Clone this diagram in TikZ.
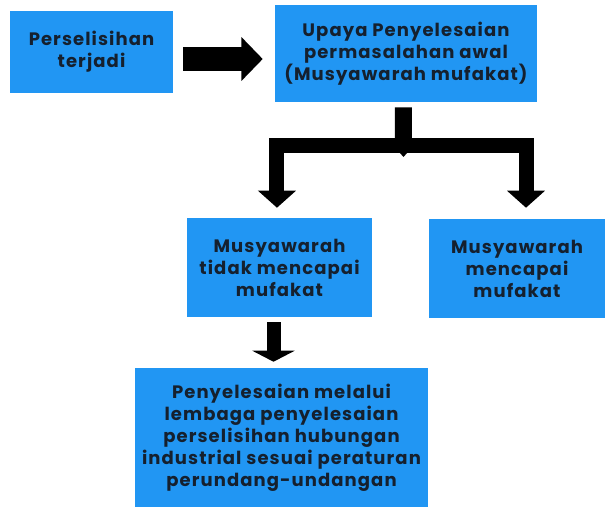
\documentclass[tikz,border=0pt]{standalone}
\usepackage{fontspec}
\setmainfont{Poppins}
\usetikzlibrary{arrows.meta}
\definecolor{boxblue}{HTML}{2196F3}
\definecolor{boxtext}{HTML}{15202E}

\begin{document}
\begin{tikzpicture}[x=0.75pt,y=-0.75pt,line join=miter,
  box/.style={fill=boxblue,draw=none,text=boxtext,align=center,inner sep=0pt,
    font=\fontsize{13.5pt}{16.5pt}\selectfont\bfseries\addfontfeatures{LetterSpace=6}},
  fatarrow/.style={draw=black,line width=#1},
  fatarrow/.default=11.25pt]
  \useasboundingbox (0,0) rectangle (605,507);
  \node[box,minimum width=122.25pt,minimum height=61.5pt] (terjadi) at (91.5,52)
       {Perselisihan\\terjadi};
  \node[box,minimum width=196.5pt,minimum height=72.75pt] (awal) at (406,53.5)
       {Upaya Penyelesaian\\permasalahan awal\\(Musyawarah mufakat)};
  \node[box,minimum width=138.75pt,minimum height=74.25pt] (gagal) at (279.5,267.5)
       {Musyawarah\\tidak mencapai\\mufakat};
  \node[box,minimum width=132pt,minimum height=74.25pt] (capai) at (517,268.5)
       {Musyawarah\\mencapai\\mufakat};
  \node[box,minimum width=219.75pt,minimum height=104.25pt] (lembaga) at (281.5,437.5)
       {Penyelesaian melalui\\lembaga penyelesaian\\perselisihan hubungan\\industrial sesuai peraturan\\perundang-undangan};
  \coordinate (split) at (403.5,145);
  \coordinate (fork) at (403.5,157);
  % arrows between the boxes
  \draw[fatarrow=18pt,-{Triangle[length=16pt,width=32pt]},shorten <=7.5pt,shorten >=9pt]
       ([yshift=-5.25pt]terjadi.east) -- ([yshift=-5.25pt]terjadi.east -| awal.west);
  \draw[fatarrow,-{Triangle[length=12.75pt,width=27.75pt]},shorten >=7.5pt]
       (split) -| ([xshift=-1.9pt]gagal.north);
  \draw[fatarrow,-{Triangle[length=12.75pt,width=27.75pt]},shorten >=8.25pt]
       (split) -| ([xshift=6.75pt]capai.north);
  \draw[fatarrow=12.75pt,-{Triangle[length=12pt,width=21pt]},shorten <=3.75pt]
       ([xshift=-1.9pt]awal.south) -- (fork);
  \draw[fatarrow=10.5pt,-{Triangle[length=8.25pt,width=31.5pt]},shorten <=3.75pt,shorten >=4.5pt]
       ([xshift=-4.5pt]gagal.south) -- ([xshift=-4.5pt]gagal.south |- lembaga.north);
\end{tikzpicture}
\end{document}
